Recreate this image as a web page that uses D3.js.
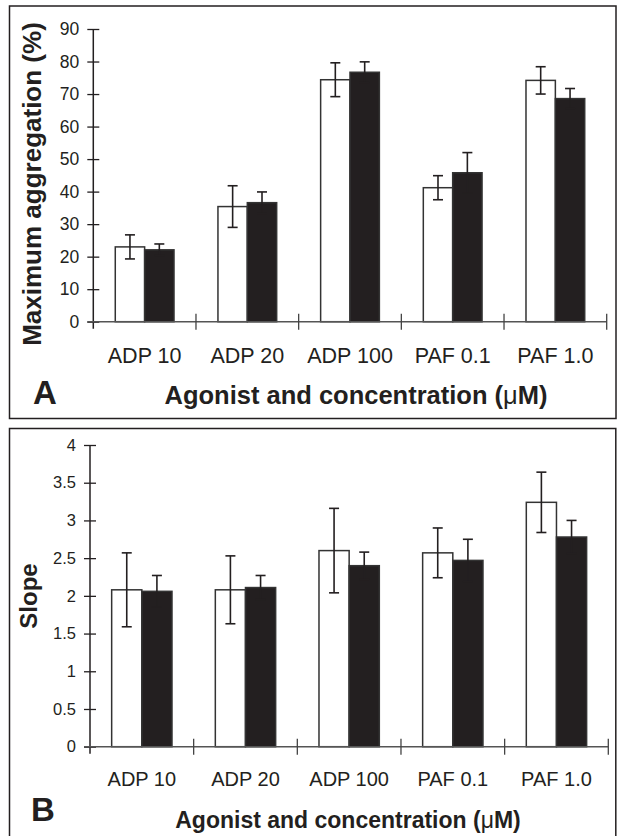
<!DOCTYPE html>
<html>
<head>
<meta charset="utf-8">
<script src="https://cdn.jsdelivr.net/npm/d3@7"></script>
<style>
  body { margin: 0; background: #fff; }
  svg text { font-family: "Liberation Sans", Arial, sans-serif; fill: #231f20; }
</style>
</head>
<body>
<svg id="chart" width="620" height="836"></svg>
<script>
// values
var agonists = ["ADP 10", "ADP 20", "ADP 100", "PAF 0.1", "PAF 1.0"];

var aggWhite = [23.0, 35.4, 74.4, 41.2, 74.2];
var aggWhiteErr = [3.7, 6.4, 5.2, 3.7, 4.2];
var aggBlack = [22.1, 36.6, 76.7, 45.8, 68.6];
var aggBlackErr = [1.8, 3.3, 3.2, 6.2, 3.1];
var aggTicks = [0, 10, 20, 30, 40, 50, 60, 70, 80, 90];

var slopeWhite = [2.08, 2.08, 2.60, 2.57, 3.24];
var slopeWhiteErr = [0.49, 0.45, 0.56, 0.33, 0.40];
var slopeBlack = [2.06, 2.11, 2.40, 2.47, 2.78];
var slopeBlackErr = [0.21, 0.16, 0.18, 0.28, 0.22];
var slopeTicks = [0, 0.5, 1, 1.5, 2, 2.5, 3, 3.5, 4];

var ink = "#231f20";
var svg = d3.select("#chart");

var makeRows = function(white, whiteErr, black, blackErr){
  var rows = [];
  agonists.forEach(function(a, i){
    rows.push({cat: a, grp: "white", v: white[i], e: whiteErr[i]});
    rows.push({cat: a, grp: "black", v: black[i], e: blackErr[i]});
  });
  return rows;
};

var drawPanel = function(rows, ticks, opt){
  // frame
  svg.append("rect")
    .attr("x", opt.frame[0]).attr("y", opt.frame[1])
    .attr("width", opt.frame[2]).attr("height", opt.frame[3])
    .attr("fill", "none").attr("stroke", ink).attr("stroke-width", 1.5);

  var x = d3.scaleBand().domain(agonists).range([opt.left, opt.right]);
  var bw = x.bandwidth();
  var xSub = d3.scaleBand().domain(["white", "black"])
    .range([bw * opt.groupStart, bw * (1 - opt.groupStart)]);
  var y = d3.scaleLinear().domain([0, ticks[ticks.length - 1]])
    .range([opt.bottom, opt.top]);

  var g = svg.append("g");

  // bars
  g.selectAll("rect.bar")
    .data(rows)
    .enter()
    .append("rect")
    .attr("class", "bar")
    .attr("x", function(d){ return x(d.cat) + xSub(d.grp); })
    .attr("y", function(d){ return y(d.v); })
    .attr("width", xSub.bandwidth())
    .attr("height", function(d){ return y(0) - y(d.v); })
    .attr("fill", function(d){ return d.grp == "white" ? "#fff" : ink; })
    .attr("stroke", "#333")
    .attr("stroke-width", 1.5);

  // error bars
  var eb = g.selectAll("g.err")
    .data(rows)
    .enter()
    .append("g")
    .attr("class", "err")
    .attr("stroke", ink)
    .attr("stroke-width", 1.6);
  var cx = function(d){ return x(d.cat) + xSub(d.grp) + xSub.bandwidth() / 2; };
  eb.append("line")
    .attr("x1", cx).attr("x2", cx)
    .attr("y1", function(d){ return y(d.v + d.e); })
    .attr("y2", function(d){ return y(d.v - d.e); });
  [1, -1].forEach(function(s){
    eb.append("line")
      .attr("x1", function(d){ return cx(d) - 5; })
      .attr("x2", function(d){ return cx(d) + 5; })
      .attr("y1", function(d){ return y(d.v + s * d.e); })
      .attr("y2", function(d){ return y(d.v + s * d.e); });
  });

  // y axis, ticks crossing the line
  var yAxis = svg.append("g")
    .attr("transform", "translate(" + opt.left + ",0)")
    .call(d3.axisLeft(y).tickValues(ticks).tickSize(6).tickPadding(opt.tickPad)
      .tickFormat(function(d){ return d; }));
  yAxis.select(".domain").remove();
  yAxis.selectAll(".tick line").attr("x1", 6).attr("stroke", ink).attr("stroke-width", 1.3);
  yAxis.selectAll(".tick text")
    .style("font-size", opt.tickFont + "px")
    .style("font-family", "Liberation Sans, Arial, sans-serif")
    .attr("fill", ink);
  yAxis.append("line")
    .attr("x1", 0).attr("x2", 0)
    .attr("y1", y(ticks[ticks.length - 1])).attr("y2", opt.bottom + 7)
    .attr("stroke", ink).attr("stroke-width", 1.5);

  // x axis with category labels
  var xAxis = svg.append("g")
    .attr("transform", "translate(0," + opt.bottom + ")")
    .call(d3.axisBottom(x).tickSize(0).tickPadding(opt.labelPad));
  xAxis.select(".domain").remove();
  xAxis.selectAll(".tick text")
    .style("font-size", opt.labelFont + "px")
    .style("font-family", "Liberation Sans, Arial, sans-serif")
    .attr("fill", ink);
  xAxis.append("line")
    .attr("x1", opt.left - 6).attr("x2", opt.right)
    .attr("stroke", "#555").attr("stroke-width", 1.5);
  var bounds = agonists.map(function(a){ return x(a); }).slice(1).concat([opt.right]);
  xAxis.selectAll("line.div")
    .data(bounds)
    .enter()
    .append("line")
    .attr("class", "div")
    .attr("x1", function(d){ return d; }).attr("x2", function(d){ return d; })
    .attr("y1", -8).attr("y2", 8)
    .attr("stroke", "#444").attr("stroke-width", 1.3);

  // titles
  var yt = svg.append("text")
    .attr("transform", "translate(" + opt.yTitle[0] + "," + opt.yTitle[1] + ") rotate(-90)")
    .attr("text-anchor", "middle")
    .style("font-size", opt.yTitleFont + "px")
    .style("font-weight", "bold")
    .text(opt.yLabel);

  var xt = svg.append("text")
    .attr("x", opt.xTitle[0]).attr("y", opt.xTitle[1])
    .attr("text-anchor", "middle")
    .style("font-size", opt.xTitleFont + "px")
    .style("font-weight", "bold");
  xt.append("tspan").text("Agonist and concentration (");
  xt.append("tspan").style("font-weight", "normal").text("\u03bc");
  xt.append("tspan").text("M)");

  svg.append("text")
    .attr("x", opt.letter[0]).attr("y", opt.letter[1])
    .style("font-size", "33px")
    .style("font-weight", "bold")
    .text(opt.letterText);
};

drawPanel(makeRows(aggWhite, aggWhiteErr, aggBlack, aggBlackErr), aggTicks, {
  frame: [9.5, 6, 606.5, 412.5],
  left: 93.3, right: 606.7, top: 29, bottom: 321.7,
  groupStart: 0.214,
  tickPad: 8, tickFont: 17.5,
  labelPad: 26, labelFont: 21.5,
  yLabel: "Maximum aggregation (%)", yTitle: [41, 184], yTitleFont: 26,
  xTitle: [356, 404], xTitleFont: 25.5,
  letter: [33, 404], letterText: "A"
});

drawPanel(makeRows(slopeWhite, slopeWhiteErr, slopeBlack, slopeBlackErr), slopeTicks, {
  frame: [9.5, 428.5, 606.3, 420],
  left: 90, right: 608.3, top: 445, bottom: 746.7,
  groupStart: 0.209,
  tickPad: 8, tickFont: 16.5,
  labelPad: 25, labelFont: 20,
  yLabel: "Slope", yTitle: [37, 596], yTitleFont: 24,
  xTitle: [348, 828], xTitleFont: 23,
  letter: [31, 821], letterText: "B"
});
</script>
</body>
</html>
